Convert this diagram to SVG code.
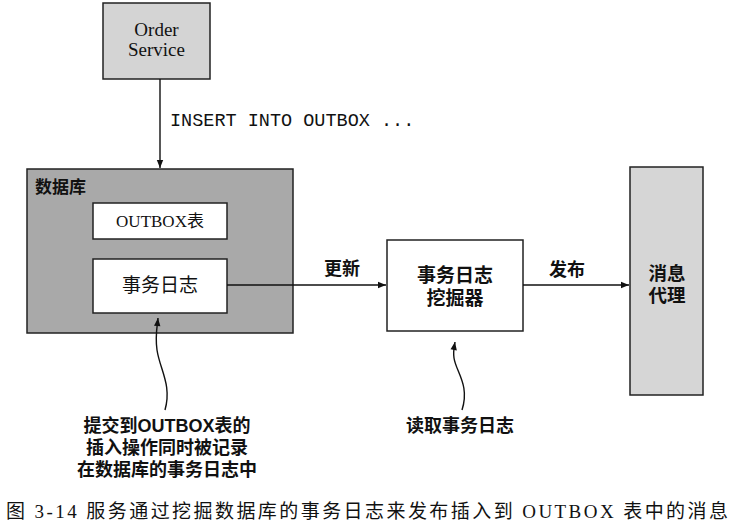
<svg xmlns="http://www.w3.org/2000/svg" width="733" height="531" viewBox="0 0 733 531">
<style>
.box{stroke:#222;stroke-width:1.5}
.line{stroke:#111;stroke-width:1.4;fill:none}
.serif{font-family:"Liberation Serif","Noto Sans CJK SC",serif;fill:#111}
.cjk{font-family:"Noto Sans CJK SC","Liberation Sans",sans-serif;fill:#111}
.lat{font-family:"Liberation Sans","Noto Sans CJK SC",sans-serif;fill:#111}
.mono{font-family:"Liberation Mono","DejaVu Sans Mono",monospace;fill:#111}
</style>
<defs>
<marker id="ah" viewBox="0 0 10 10" refX="10" refY="5" markerWidth="10" markerHeight="8" markerUnits="userSpaceOnUse" orient="auto">
<path d="M0,1 L10,5 L0,9 Z" fill="#111"/>
</marker>
</defs>
<rect width="733" height="531" fill="#fff"/>
<g id="order-service">
<rect class="box" x="103" y="3" width="107" height="76" fill="#d4d4d4"/>
<text class="serif" font-size="19" text-anchor="middle"><tspan x="156.5" y="36">Order</tspan><tspan x="156.5" y="56">Service</tspan></text>
</g>
<g id="database">
<rect class="box" x="27" y="169" width="266" height="164" fill="#a9a9a9"/>
<text class="cjk" x="35" y="193" font-size="17" font-weight="bold">数据库</text>
</g>
<g id="outbox-table">
<rect class="box" x="93" y="203" width="134" height="36" fill="#fff"/>
<text class="serif" x="160" y="227" font-size="17" text-anchor="middle">OUTBOX表</text>
</g>
<g id="transaction-log">
<rect class="box" x="93" y="259" width="134" height="54" fill="#fff"/>
<text class="cjk" x="160" y="292" font-size="19" text-anchor="middle">事务日志</text>
</g>
<g id="log-miner">
<rect class="box" x="387" y="240" width="136" height="91" fill="#fff"/>
<text class="lat" font-size="19" font-weight="bold" text-anchor="middle"><tspan x="455" y="282">事务日志</tspan><tspan x="455" y="305">挖掘器</tspan></text>
</g>
<g id="message-broker">
<rect class="box" x="630" y="167" width="73" height="228" fill="#d6d6d6"/>
<text class="lat" font-size="18.5" font-weight="bold" text-anchor="middle"><tspan x="667" y="280">消息</tspan><tspan x="667" y="302">代理</tspan></text>
</g>
<g id="connectors">
<line class="line" x1="160" y1="79" x2="160" y2="168" marker-end="url(#ah)"/>
<text class="mono" x="170" y="126" font-size="18.5">INSERT INTO OUTBOX ...</text>
<line class="line" x1="227" y1="285" x2="386" y2="285" marker-end="url(#ah)"/>
<text class="cjk" x="342" y="275" font-size="18" font-weight="bold" text-anchor="middle">更新</text>
<line class="line" x1="523" y1="285" x2="629" y2="285" marker-end="url(#ah)"/>
<text class="cjk" x="567" y="276" font-size="18" font-weight="bold" text-anchor="middle">发布</text>
<path class="line" d="M165,410 C172,385 160,370 157,350 C155,336 157,328 158,318" marker-end="url(#ah)"/>
<path class="line" d="M462,410 C470,385 456,372 454,358 C453,352 454,348 455,342" marker-end="url(#ah)"/>
</g>
<g id="annotations">
<text class="lat" font-size="18" font-weight="bold" text-anchor="middle"><tspan x="167" y="432">提交到OUTBOX表的</tspan><tspan x="167" y="454">插入操作同时被记录</tspan><tspan x="167" y="476">在数据库的事务日志中</tspan></text>
<text class="cjk" x="460" y="432" font-size="18" font-weight="bold" text-anchor="middle">读取事务日志</text>
</g>
<g id="caption">
<text class="serif" x="6" y="518" font-size="19" textLength="722" lengthAdjust="spacing">图 3-14  服务通过挖掘数据库的事务日志来发布插入到 OUTBOX 表中的消息</text>
</g>
</svg>
